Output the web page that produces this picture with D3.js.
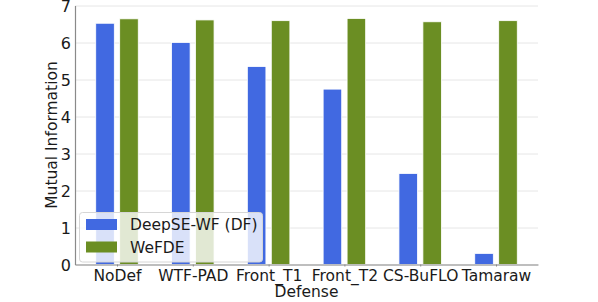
<!DOCTYPE html>
<html lang="en">
<head>
<meta charset="UTF-8">
<title>Mutual Information by Defense</title>
<style>
  body { margin: 0; background: #fff; }
  svg text { font-family: 'DejaVu Sans', sans-serif; fill: #1a1a1a; }
  .grid line { stroke: #e6e6e6; stroke-width: 1; }
  .grid path { display: none; }
</style>
</head>
<body>
<div id="chart"></div>
<script src="https://d3js.org/d3.v7.min.js"></script>
<script>
const defenses = ["NoDef", "WTF-PAD", "Front_T1", "Front_T2", "CS-BuFLO", "Tamaraw"];
const deepseValues = [6.52, 6.00, 5.35, 4.74, 2.46, 0.30];
const wefdeValues = [6.64, 6.61, 6.59, 6.65, 6.56, 6.59];
const yTicks = [0, 1, 2, 3, 4, 5, 6, 7];
const seriesNames = ["DeepSE-WF (DF)", "WeFDE"];
const colors = ["#4169e1", "#6b8e23"];

const W = 598, H = 302;
const plotLeft = 75, plotRight = 538, plotTop = 5.5, plotBottom = 264.5;

const svg = d3.select("#chart").append("svg")
    .attr("width", W).attr("height", H);

const x = d3.scaleLinear().domain([-0.554, defenses.length - 1 + 0.554]).range([plotLeft, plotRight]);
const y = d3.scaleLinear().domain([0, 7]).range([plotBottom, plotTop]);

// grid
svg.append("g").attr("class", "grid")
    .attr("transform", `translate(${plotLeft},0)`)
    .call(d3.axisLeft(y).tickValues(yTicks).tickSize(-(plotRight - plotLeft)).tickFormat(""));

const barW = 0.245, off = 0.158;
const series = [deepseValues, wefdeValues];
series.forEach((vals, s) => {
    svg.append("g").selectAll("rect")
        .data(vals)
        .enter().append("rect")
        .attr("x", (d, i) => x(i + (s === 0 ? -off : off) - barW / 2))
        .attr("width", x(barW) - x(0))
        .attr("y", d => y(d))
        .attr("height", d => y(0) - y(d))
        .attr("fill", colors[s])
        .attr("stroke", "#ffffff")
        .attr("stroke-width", 0.8);
});

// axes
const yAxis = svg.append("g")
    .attr("transform", `translate(${plotLeft},0)`)
    .call(d3.axisLeft(y).tickValues(yTicks).tickFormat(d3.format("d")).tickSize(0).tickPadding(4));
yAxis.select(".domain").attr("stroke", "#8a8a8a").attr("stroke-width", 1.2);
yAxis.selectAll("text").attr("font-size", 16).attr("dy", "0.36em");

const xAxis = svg.append("g")
    .attr("transform", `translate(0,${plotBottom})`)
    .call(d3.axisBottom(x).tickValues(d3.range(defenses.length)).tickFormat(i => defenses[i]).tickSize(2).tickPadding(3).tickSizeOuter(0));
xAxis.select(".domain").attr("stroke", "#8a8a8a").attr("stroke-width", 1.2);
xAxis.selectAll(".tick line").attr("stroke", "#8a8a8a");
xAxis.selectAll("text").attr("font-size", 15.5);

svg.append("text")
    .attr("transform", `translate(51,${(plotTop + plotBottom) / 2}) rotate(-90)`)
    .attr("text-anchor", "middle")
    .attr("dy", "0.36em")
    .attr("font-size", 15.5)
    .text("Mutual Information");

svg.append("text")
    .attr("x", (plotLeft + plotRight) / 2)
    .attr("y", 297)
    .attr("text-anchor", "middle")
    .attr("font-size", 15.5)
    .text("Defense");

// legend
const lg = svg.append("g");
lg.append("rect")
    .attr("x", 79.5).attr("y", 212.5).attr("width", 183).attr("height", 49.5)
    .attr("rx", 3)
    .attr("fill", "#ffffff").attr("fill-opacity", 0.8)
    .attr("stroke", "#d6d6d6").attr("stroke-width", 1);
seriesNames.forEach((name, i) => {
    const yy = 224.5 + i * 22.5;
    lg.append("rect")
        .attr("x", 86).attr("y", yy - 5.5).attr("width", 31).attr("height", 11)
        .attr("fill", colors[i]);
    lg.append("text")
        .attr("x", 130).attr("y", yy).attr("dy", "0.36em")
        .attr("font-size", 15.5)
        .text(name);
});
</script>
</body>
</html>
